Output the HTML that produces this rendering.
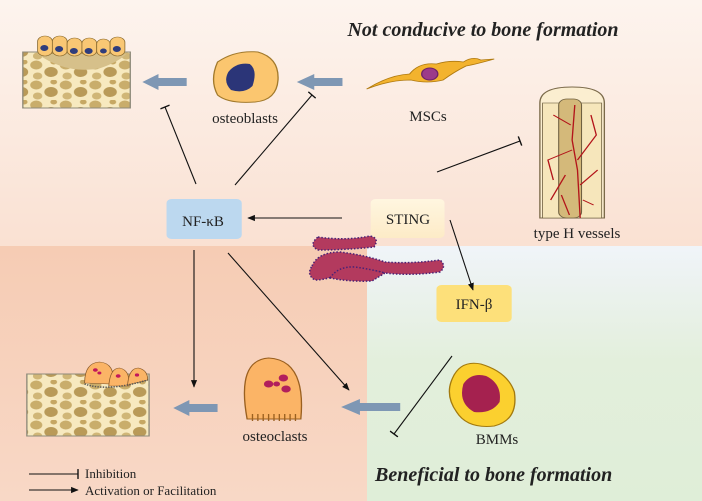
<!DOCTYPE html>
<html><head><meta charset="utf-8"><style>
html,body{margin:0;padding:0;background:#fff}
svg{display:block}
text{font-family:"Liberation Serif",serif;fill:#222}
</style></head><body>
<svg width="702" height="501" viewBox="0 0 702 501" xmlns="http://www.w3.org/2000/svg">
<defs>
<linearGradient id="bgT" x1="0" y1="0" x2="0" y2="1">
<stop offset="0" stop-color="#fdf4ee"/><stop offset="1" stop-color="#f6cdb6"/></linearGradient>
<linearGradient id="bgG" x1="0" y1="0" x2="0" y2="1">
<stop offset="0" stop-color="#f0f4f9"/><stop offset="0.45" stop-color="#e3efdc"/><stop offset="1" stop-color="#dfeed8"/></linearGradient>
<linearGradient id="bgL" x1="0" y1="0" x2="0" y2="1">
<stop offset="0" stop-color="#f6ccb4"/><stop offset="1" stop-color="#f8d8c6"/></linearGradient>
<linearGradient id="sting" x1="0" y1="0" x2="0" y2="1">
<stop offset="0" stop-color="#fff6e0"/><stop offset="1" stop-color="#fdebc7"/></linearGradient>
<pattern id="bone" width="22" height="20" patternUnits="userSpaceOnUse">
<rect width="22" height="20" fill="#f7e9bf"/>
<circle cx="5" cy="5" r="4.5" fill="#c9ad6b"/><circle cx="16" cy="12" r="5" fill="#b99a58"/>
<circle cx="6" cy="16" r="3.5" fill="#d0b677"/><circle cx="18" cy="2" r="2.5" fill="#c6a763"/>
</pattern>
<marker id="ar" viewBox="0 0 10 10" refX="9" refY="5" markerWidth="7" markerHeight="7" orient="auto"><path d="M0,1 L10,5 L0,9 z" fill="#111"/></marker>
<marker id="tb" viewBox="0 0 4 10" refX="2" refY="5" markerWidth="4" markerHeight="9" orient="auto"><path d="M2,0 L2,10" stroke="#111" stroke-width="1.4"/></marker>
</defs>
<rect width="702" height="501" fill="url(#bgT)"/>
<rect x="0" y="246" width="368" height="255" fill="url(#bgL)"/>
<rect x="367" y="246" width="335" height="255" fill="url(#bgG)"/>

<text x="483" y="36" font-size="20" font-weight="bold" font-style="italic" text-anchor="middle">Not conducive to bone formation</text>
<text x="375" y="481" font-size="20" font-weight="bold" font-style="italic">Beneficial to bone formation</text>

<g transform="scale(1.343,1)">
<!-- top bone -->
<rect x="17" y="52" width="80" height="56" fill="url(#bone)" stroke="#8e8a7a"/>
<path d="M28,54 Q50,75 75,68 Q88,62 94,54 Z" fill="#d6c08a"/>
<g fill="#f9c774" stroke="#8a6b30" stroke-width="0.6">
<rect x="28" y="36" width="11" height="20" rx="5.5"/><rect x="39" y="36" width="11" height="20" rx="5.5"/>
<rect x="50" y="38" width="11" height="18" rx="5.5"/><rect x="61" y="38" width="11" height="18" rx="5.5"/>
<rect x="72" y="39" width="10" height="17" rx="5"/><rect x="82" y="37" width="11" height="19" rx="5.5"/>
</g>
<g fill="#2f3d7c"><circle cx="33" cy="48" r="3"/><circle cx="44" cy="49" r="3"/><circle cx="55" cy="51" r="3"/><circle cx="66" cy="51" r="3"/><circle cx="77" cy="51" r="2.5"/><circle cx="87" cy="49" r="3"/></g>

<g fill="#7e97b4">
<path d="M139,78 L118,78 L118,74 L106,82 L118,90 L118,86 L139,86 Z"/>
<path d="M255,78 L234,78 L234,74 L221,82 L234,90 L234,86 L255,86 Z"/>
<path d="M162,404 L141,404 L141,400 L129,408 L141,416 L141,412 L162,412 Z"/>
<path d="M298,403 L268,403 L268,399 L254,407 L268,415 L268,411 L298,411 Z"/>
</g>

<!-- osteoblast -->
<path d="M162,62 Q175,50 192,52 Q208,58 207,80 Q206,100 190,102 Q170,104 162,95 Q156,80 162,62 Z" fill="#fbc66f" stroke="#a27a2c"/>
<path d="M170,72 Q176,62 186,64 Q192,70 188,86 Q182,94 172,90 Q166,82 170,72 Z" fill="#2b3578"/>

<!-- MSC -->
<path d="M273,89 Q290,75 305,74 Q312,62 325,64 Q335,60 345,62 Q352,56 358,60 L368,59 Q355,64 347,66 Q338,72 330,80 Q318,84 306,80 Q290,80 273,89 Z" fill="#f3b32e" stroke="#b07a10" stroke-width="0.8"/>
<circle cx="320" cy="74" r="6" fill="#9c3a8a" stroke="#6d2268"/>

<!-- vessels -->
<path d="M402,218 L402,103 Q402,87 426,87 Q450,87 450,103 L450,218 Z" fill="#fbeed0" stroke="#7b6a4a"/>
<rect x="404" y="103" width="44" height="115" fill="#f6e6bb" stroke="#6f6040" stroke-width="0.6"/>
<rect x="416" y="99" width="17" height="119" rx="6" fill="#d4b97a" stroke="#6f6040" stroke-width="0.8"/>
<g stroke="#b3141a" stroke-width="1" fill="none">
<path d="M428,105 L426,140 L430,170 L432,218"/><path d="M425,125 L412,115 M426,150 L408,160 L412,180 M430,160 L444,135 L440,115 M432,185 L445,170 M421,175 L410,200 M434,200 L442,205 M418,195 L424,215"/>
</g>

<!-- boxes -->
<rect x="124" y="199" width="56" height="40" rx="4" fill="#bcd8ef"/>
<rect x="276" y="199" width="55" height="39" rx="4" fill="url(#sting)"/>
<rect x="325" y="285" width="56" height="37" rx="4" fill="#fde07a"/>

<!-- bottom bone -->
<rect x="20" y="374" width="91" height="62" fill="url(#bone)" stroke="#8e8a7a"/>
<g fill="#fbb466" stroke="#8a5a2a" stroke-width="0.6">
<path d="M63,383 Q63,363 74,362 Q86,363 84,384 Z"/><path d="M81,386 Q82,368 89,368 Q97,370 96,386 Z"/><path d="M95,385 Q96,368 103,368 Q110,370 110,380 Z"/>
</g>
<path d="M63,384 Q80,392 110,380" stroke="#555" stroke-width="1.5" stroke-dasharray="1 1" fill="none"/>
<g fill="#c2185b"><circle cx="71" cy="370" r="1.8"/><circle cx="74" cy="373" r="1.5"/><circle cx="88" cy="376" r="1.8"/><circle cx="102" cy="375" r="1.6"/></g>

<!-- osteoclast -->
<path d="M184,419 Q176,360 200,358 Q228,360 224,419 Z" fill="#fbb466" stroke="#9a6020"/>
<g stroke="#9a6020" stroke-width="1" fill="none"><path d="M188,421 v-7 M192,421 v-7 M196,421 v-7 M200,421 v-7 M204,421 v-7 M208,421 v-7 M212,421 v-7 M216,421 v-7 M220,421 v-7"/></g>
<g fill="#b21f5c"><circle cx="200" cy="384" r="3.5"/><circle cx="211" cy="378" r="3.5"/><circle cx="213" cy="389" r="3.5"/><circle cx="206" cy="384" r="2.5"/></g>

<!-- BMMs -->
<path d="M337,378 Q343,360 358,364 Q378,372 383,392 Q386,420 368,426 Q348,429 340,412 Q331,395 337,378 Z" fill="#fbd02f" stroke="#a37a0e"/>
<path d="M345,384 Q351,372 362,376 Q374,384 372,402 Q366,414 353,412 Q341,403 345,384 Z" fill="#a5214f"/>
</g>

<!-- bacteria -->
<g stroke="#4a2276" stroke-width="1.5" stroke-dasharray="1.5 1.8" fill="#b33a5e">
<path d="M318,237 Q345,241 370,236 Q380,238 374,247 Q345,250 318,250 Q308,245 318,237 Z"/>
<path d="M312,266 Q318,252 340,252 Q365,255 385,262 Q410,264 440,260 Q447,266 440,272 Q410,276 385,273 Q360,268 345,270 Q330,280 315,280 Q306,275 312,266 Z"/>
<path d="M330,278 Q338,266 355,267 Q370,269 385,273 L372,281 Q350,282 330,278 Z"/>
</g>

<!-- connectors -->
<g stroke="#111" stroke-width="1.1" fill="none">
<line x1="196" y1="184" x2="165" y2="107" marker-end="url(#tb)"/>
<line x1="235" y1="185" x2="312" y2="95" marker-end="url(#tb)"/>
<line x1="437" y1="172" x2="520" y2="141" marker-end="url(#tb)"/>
<line x1="342" y1="218" x2="248" y2="218" marker-end="url(#ar)"/>
<line x1="450" y1="220" x2="473" y2="290" marker-end="url(#ar)"/>
<line x1="452" y1="356" x2="394" y2="434" marker-end="url(#tb)"/>
<line x1="194" y1="250" x2="194" y2="387" marker-end="url(#ar)"/>
<line x1="228" y1="253" x2="349" y2="390" marker-end="url(#ar)"/>
<line x1="29" y1="474" x2="78" y2="474" marker-end="url(#tb)"/>
<line x1="29" y1="490" x2="78" y2="490" marker-end="url(#ar)"/>
</g>

<text x="245" y="123" font-size="15" text-anchor="middle">osteoblasts</text>
<text x="428" y="121" font-size="15" text-anchor="middle">MSCs</text>
<text x="577" y="238" font-size="15" text-anchor="middle">type H vessels</text>
<text x="203" y="226" font-size="15" text-anchor="middle">NF-κB</text>
<text x="408" y="224" font-size="15" text-anchor="middle">STING</text>
<text x="474" y="309" font-size="15" text-anchor="middle">IFN-β</text>
<text x="275" y="441" font-size="15" text-anchor="middle">osteoclasts</text>
<text x="497" y="444" font-size="15" text-anchor="middle">BMMs</text>
<text x="85" y="478" font-size="13">Inhibition</text>
<text x="85" y="495" font-size="13">Activation or Facilitation</text>
</svg>
</body></html>
